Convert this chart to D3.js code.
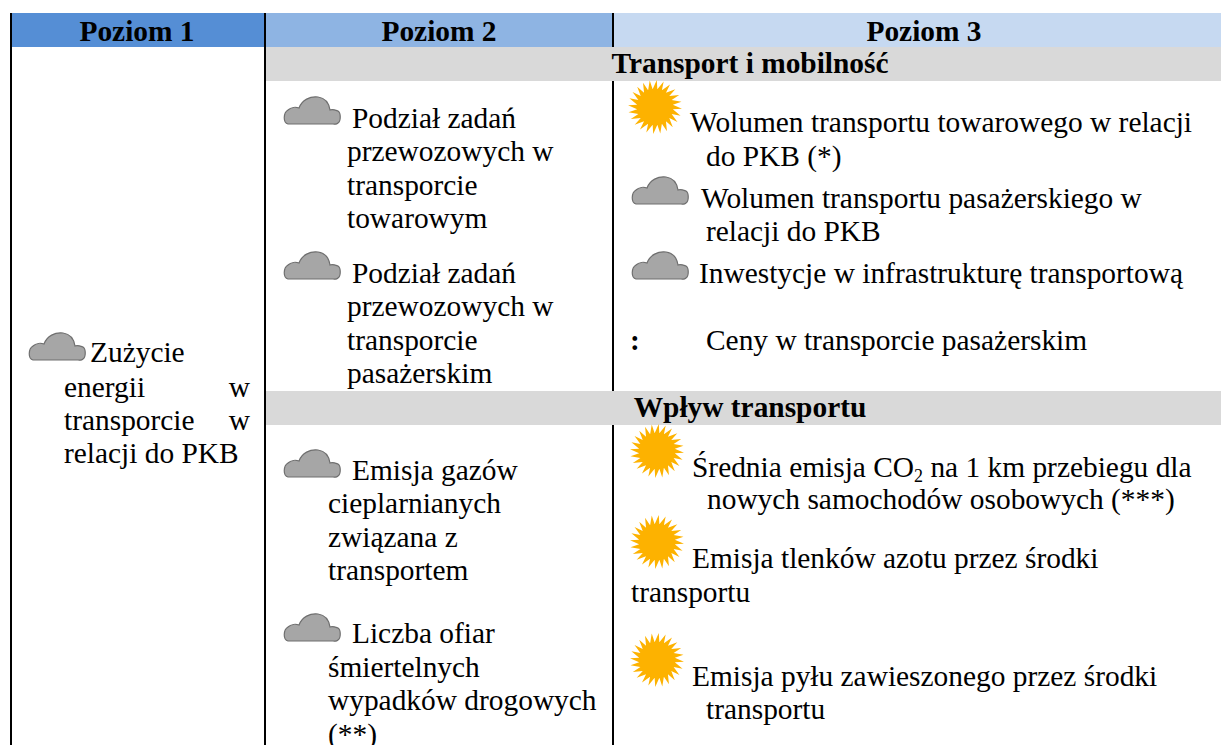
<!DOCTYPE html>
<html lang="pl">
<head>
<meta charset="utf-8">
<script src="https://cdn.jsdelivr.net/npm/d3@7"></script>
<style>
    html, body { margin: 0; padding: 0; background: #fff; overflow: hidden; }
    svg { display: block; }
    text { font-family: "Liberation Serif", serif; fill: #000; }
</style>
</head>
<body>
<svg width="1221" height="745"></svg>
<script>
// table content
const columnLabels = ["Poziom 1", "Poziom 2", "Poziom 3"];
const sectionLabels = ["Transport i mobilność", "Wpływ transportu"];
const level1Lines = ["Zużycie", "energii", "transporcie", "relacji do PKB"];
const level1Right = ["", "w", "w", ""];
const level2Lines = [
    "Podział zadań", "przewozowych w", "transporcie", "towarowym",
    "Podział zadań", "przewozowych w", "transporcie", "pasażerskim",
    "Emisja gazów", "cieplarnianych", "związana z", "transportem",
    "Liczba ofiar", "śmiertelnych", "wypadków drogowych", "(**)"
];
const level3Lines = [
    "Wolumen transportu towarowego w relacji", "do PKB (*)",
    "Wolumen transportu pasażerskiego w", "relacji do PKB",
    "Inwestycje w infrastrukturę transportową",
    ":", "Ceny w transporcie pasażerskim",
    "Średnia emisja CO₂ na 1 km przebiegu dla", "nowych samochodów osobowych (***)",
    "Emisja tlenków azotu przez środki", "transportu",
    "Emisja pyłu zawieszonego przez środki", "transportu"
];
const cloudItems = ["level1", "transportTow", "transportPas", "emisja", "ofiary", "wolPas", "inwestycje"];
const sunItems = ["wolTow", "srednia", "tlenki", "pyl"];

// layout, kept apart from the content
const columnEdges = [11, 265, 613, 1221];
const columnColors = ["#558ed5", "#8eb4e3", "#c6d9f1"];
const columnCenters = [137, 439, 924];
const sectionBands = [[47, 81], [391, 425]];
const sectionCenter = 750;
const sectionBaselines = [73, 417];
const headerBand = [13, 47];
const fontSize = 29.4;

const level1X = [90, 64, 64, 64];
const level1Y = [362, 397, 430, 463];
const level2X = [352, 347, 347, 347, 352, 347, 347, 347, 352, 328, 328, 328, 352, 328, 328, 328];
const level2Y = [128, 161, 195, 228, 283, 316, 350, 383, 480, 513, 547, 580, 643, 677, 710, 744];
const level3X = [690, 706, 701, 706, 699, 630, 706, 692, 707, 692, 631, 692, 706];
const level3Y = [132, 166, 208, 241, 283, 350, 350, 477, 509, 568, 602, 686, 719];
const cloudPos = new Map([
    ["level1", [28, 332]], ["transportTow", [283, 96]], ["transportPas", [283, 251]],
    ["emisja", [283, 449]], ["ofiary", [283, 613]], ["wolPas", [631, 176]], ["inwestycje", [631, 251]]
]);
const sunPos = new Map([
    ["wolTow", [655, 107]], ["srednia", [657, 451]], ["tlenki", [657, 542]], ["pyl", [657, 660]]
]);

const svg = d3.select("svg");

// header bands
svg.append("g").selectAll("rect")
    .data(columnLabels)
    .join("rect")
    .attr("x", (d, i) => columnEdges[i])
    .attr("y", headerBand[0])
    .attr("width", (d, i) => columnEdges[i + 1] - columnEdges[i])
    .attr("height", headerBand[1] - headerBand[0])
    .attr("fill", (d, i) => columnColors[i]);

// column rules sit under the grey section bands
svg.append("g").selectAll("line")
    .data(columnEdges.slice(0, 3))
    .join("line")
    .attr("x1", d => d)
    .attr("x2", d => d)
    .attr("y1", headerBand[0])
    .attr("y2", 745)
    .attr("stroke", "#000")
    .attr("stroke-width", 2);

svg.append("g").selectAll("rect")
    .data(sectionLabels)
    .join("rect")
    .attr("x", columnEdges[1] + 1)
    .attr("y", (d, i) => sectionBands[i][0])
    .attr("width", columnEdges[3] - columnEdges[1] - 1)
    .attr("height", (d, i) => sectionBands[i][1] - sectionBands[i][0])
    .attr("fill", "#d9d9d9");

svg.append("g").selectAll("text")
    .data(columnLabels)
    .join("text")
    .attr("x", (d, i) => columnCenters[i])
    .attr("y", 41)
    .attr("text-anchor", "middle")
    .attr("font-size", fontSize)
    .attr("font-weight", "bold")
    .text(d => d);

svg.append("g").selectAll("text")
    .data(sectionLabels)
    .join("text")
    .attr("x", sectionCenter)
    .attr("y", (d, i) => sectionBaselines[i])
    .attr("text-anchor", "middle")
    .attr("font-size", fontSize)
    .attr("font-weight", "bold")
    .text(d => d);

// body text, the subscript in CO2 needs its own tspan
function drawLines(lines, xs, ys) {
    const t = svg.append("g").selectAll("text")
        .data(lines)
        .join("text")
        .attr("x", (d, i) => xs[i])
        .attr("y", (d, i) => ys[i])
        .attr("font-size", fontSize)
        .attr("font-weight", d => d === ":" ? "bold" : null);
    t.each(function (d) {
        const parts = d.split("₂");
        const el = d3.select(this);
        el.append("tspan").text(parts[0]);
        if (parts.length > 1) {
            el.append("tspan").attr("dy", 5).attr("font-size", 18).text("2");
            el.append("tspan").attr("dy", -5).text(parts[1]);
        }
    });
}
drawLines(level1Lines, level1X, level1Y);
drawLines(level2Lines, level2X, level2Y);
drawLines(level3Lines, level3X, level3Y);

// the justified "w" at the end of two lines in the first column
svg.append("g").selectAll("text")
    .data(level1Right)
    .join("text")
    .attr("x", 250)
    .attr("y", (d, i) => level1Y[i])
    .attr("text-anchor", "end")
    .attr("font-size", fontSize)
    .text(d => d);

// cloud icon, 58 x 29
const cloudShape = "M5 28 C0 27 0 17 5 14 C8 11 13 11 16 12 C19 4 27 0 35 1 C42 2 46 7 47 14 C50 13 52 14 55 15 C58 17 58 25 55 27 C53 29 52 28 50 28 Z";
svg.append("g").selectAll("path")
    .data(cloudItems)
    .join("path")
    .attr("d", cloudShape)
    .attr("transform", d => `translate(${cloudPos.get(d)})`)
    .attr("fill", "#a6a6a6")
    .attr("stroke", "#6f6f6f")
    .attr("stroke-width", 1.2);

// sun icon: radial outline with bent pointed rays, slightly blurred like the scan
svg.append("defs").append("filter")
    .attr("id", "soft")
    .append("feGaussianBlur")
    .attr("stdDeviation", 0.6);
const rayCount = 24;
const sunOutline = d3.range(rayCount * 2).map(i => [
    (i + (i % 2 ? 0 : 0.5)) * Math.PI / rayCount,
    i % 2 ? 18 : 27
]);
const sunShape = d3.lineRadial().curve(d3.curveLinearClosed)(sunOutline);
svg.append("g").selectAll("path")
    .data(sunItems)
    .join("path")
    .attr("d", sunShape)
    .attr("transform", d => `translate(${sunPos.get(d)})`)
    .attr("fill", "#fdb200")
    .attr("filter", "url(#soft)");
</script>
</body>
</html>
